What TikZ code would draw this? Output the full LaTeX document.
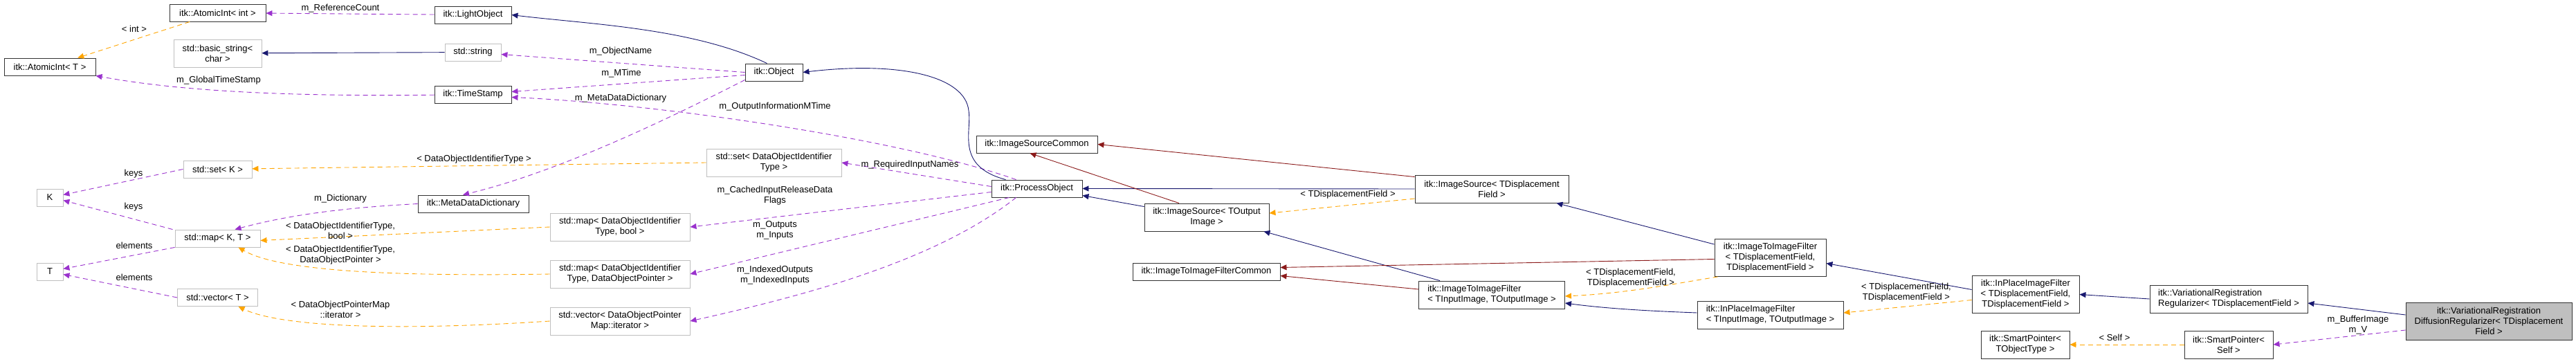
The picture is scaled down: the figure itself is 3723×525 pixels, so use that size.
\documentclass[tikz,border=0pt]{standalone}
\usepackage{fontspec}
\setmainfont{Liberation Sans}
\usetikzlibrary{arrows.meta,calc}
\definecolor{inhc}{HTML}{191970}
\definecolor{usec}{HTML}{9A32CD}
\definecolor{tplc}{HTML}{FFA500}
\definecolor{redc}{HTML}{8B1A1A}
\begin{document}
\begin{tikzpicture}[x=1pt,y=-1pt,
 every node/.style={font=\fontsize{13}{15}\selectfont, inner sep=0pt},
 box/.style={draw=black!80, line width=0.9pt, fill=white, minimum height=25, align=center},
 ext/.style={box, draw=black!25},
 arr/.style={-{Triangle[length=9pt,width=8pt]}, line width=0.9pt},
 inh/.style={arr, draw=inhc, -{Triangle[length=9pt,width=8pt,fill=inhc]}},
 red/.style={arr, draw=redc, -{Triangle[length=9pt,width=8pt,fill=redc]}},
 use/.style={arr, draw=usec, dash pattern=on 7pt off 5pt, -{Triangle[length=9pt,width=8pt,fill=usec]}},
 tpl/.style={arr, draw=tplc, dash pattern=on 7pt off 5pt, -{Triangle[length=9pt,width=8pt,fill=tplc]}},
 lbl/.style={align=center, fill=none}]
\useasboundingbox (0,0) rectangle (3723,525);
% nodes
\node[box, minimum width=139] (AI) at (314.5,18.5) {itk::AtomicInt< int >};
\node[ext, minimum width=127, minimum height=40] (BS) at (314.5,77) {std::basic\_string<\\char >};
\node[box, minimum width=132] (AT) at (72,96.5) {itk::AtomicInt< T >};
\node[ext, minimum width=99] (SK) at (314.5,244.5) {std::set< K >};
\node[ext, minimum width=38] (K) at (72,285.5) {K};
\node[ext, minimum width=123] (MK) at (314.5,344.5) {std::map< K, T >};
\node[ext, minimum width=38] (T) at (72,392.5) {T};
\node[ext, minimum width=116] (VT) at (314.5,430) {std::vector< T >};
\node[box, minimum width=111] (LO) at (683.5,21.5) {itk::LightObject};
\node[ext, minimum width=81] (SS) at (683.5,75.5) {std::string};
\node[box, minimum width=111] (TS) at (683.5,136.5) {itk::TimeStamp};
\node[box, minimum width=83] (OB) at (1118.5,104.5) {itk::Object};
\node[box, minimum width=160] (MD) at (684,294.5) {itk::MetaDataDictionary};
\node[ext, minimum width=195, minimum height=40] (SD) at (1118.5,235) {std::set< DataObjectIdentifier\\Type >};
\node[ext, minimum width=202, minimum height=40] (MB) at (896,328) {std::map< DataObjectIdentifier\\Type, bool >};
\node[ext, minimum width=202, minimum height=40] (MP) at (896,396) {std::map< DataObjectIdentifier\\Type, DataObjectPointer >};
\node[ext, minimum width=202, minimum height=40] (VI) at (896,464) {std::vector< DataObjectPointer\\Map::iterator >};
\node[box, minimum width=175] (ISC) at (1498.5,208.5) {itk::ImageSourceCommon};
\node[box, minimum width=131] (PO) at (1498.5,272.5) {itk::ProcessObject};
\node[box, minimum width=180, minimum height=40] (IS) at (1744,314) {itk::ImageSource< TOutput\\Image >};
\node[box, minimum width=213] (IFC) at (1743.5,392.5) {itk::ImageToImageFilterCommon};
\node[box, minimum width=222, minimum height=40] (ISD) at (2156,273) {itk::ImageSource< TDisplacement\\Field >};
\node[box, minimum width=211, minimum height=40, align=left] (IF) at (2156,426) {itk::ImageToImageFilter\\< TInputImage, TOutputImage >};
\node[box, minimum width=161, minimum height=54] (IFD) at (2558.5,372.5) {itk::ImageToImageFilter\\< TDisplacementField,\\TDisplacementField >};
\node[box, minimum width=211, minimum height=40, align=left] (IP) at (2558.5,455) {itk::InPlaceImageFilter\\< TInputImage, TOutputImage >};
\node[box, minimum width=155, minimum height=54] (IPD) at (2927.5,425.5) {itk::InPlaceImageFilter\\< TDisplacementField,\\TDisplacementField >};
\node[box, minimum width=128, minimum height=40] (SPT) at (2927,498) {itk::SmartPointer<\\TObjectType >};
\node[box, minimum width=228, minimum height=40, align=left] (VR) at (3221,432) {itk::VariationalRegistration\\Regularizer< TDisplacementField >};
\node[box, minimum width=128, minimum height=40] (SPS) at (3221,498) {itk::SmartPointer<\\Self >};
\node[box, fill=black!25, minimum width=240, minimum height=54] (DR) at (3597,464) {itk::VariationalRegistration\\DiffusionRegularizer< TDisplacement\\Field >};
% edges
\draw[tpl] (AI) -- (AT);
\node[lbl] at (194,42) {< int >};
\draw[use] (LO) -- (AI);
\node[lbl] at (492,12) {m\_ReferenceCount};
\draw[inh] (SS) -- (BS);
\draw[use] (TS) .. controls (400,140) and (250,130) .. (AT.south east);
\node[lbl] at (316,116) {m\_GlobalTimeStamp};
\draw[inh] ($(OB.north)+(-10,0)$) .. controls (1000,40) and (850,35) .. (LO.east);
\draw[use] (OB.west) -- (SS);
\node[lbl] at (897,74) {m\_ObjectName};
\draw[use] ($(OB.west)+(0,4)$) -- ($(TS.east)+(0,-4)$);
\node[lbl] at (898,106) {m\_MTime};
\draw[use] ($(OB.south west)+(0,-2)$) .. controls (950,180) and (800,250) .. ($(MD.north)+(-15,0)$);
\node[lbl] at (897,142) {m\_MetaDataDictionary};
\draw[use] ($(PO.north)+(-30,0)$) .. controls (1300,200) and (950,150) .. ($(TS.east)+(0,4)$);
\node[lbl] at (1120,154) {m\_OutputInformationMTime};
\draw[inh] ($(PO.north)+(-45,0)$) .. controls (1380,240) and (1405,190) .. (1400,160) .. controls (1395,110) and (1300,88) .. (OB.east);
\draw[tpl] (SD.west) -- (SK);
\node[lbl] at (685,230) {< DataObjectIdentifierType >};
\draw[use] (SK.west) -- ($(K.east)+(0,-4)$);
\node[lbl] at (193,251) {keys};
\draw[use] ($(MK.north)+(-65,0)$) -- ($(K.east)+(0,4)$);
\node[lbl] at (193,299) {keys};
\draw[use] (MK.south west) -- ($(T.east)+(0,-4)$);
\node[lbl] at (194,355) {elements};
\draw[use] (VT.west) -- ($(T.east)+(0,4)$);
\node[lbl] at (194,401) {elements};
\draw[use] (MD.west) .. controls (500,300) and (420,310) .. ($(MK.north)+(25,0)$);
\node[lbl] at (492,287) {m\_Dictionary};
\draw[tpl] (MB.west) -- ($(MK.east)+(0,3)$);
\node[lbl] at (492,333) {< DataObjectIdentifierType,\\bool >};
\draw[tpl] (MP.west) .. controls (550,400) and (400,390) .. ($(MK.south)+(30,0)$);
\node[lbl] at (492,369) {< DataObjectIdentifierType,\\DataObjectPointer >};
\draw[tpl] (VI.west) .. controls (550,480) and (400,470) .. ($(VT.south)+(30,0)$);
\node[lbl] at (492,447) {< DataObjectPointerMap\\::iterator >};
\draw[use] ($(PO.west)+(0,-3)$) -- (SD.east);
\node[lbl] at (1315,238) {m\_RequiredInputNames};
\draw[use] ($(PO.west)+(0,5)$) -- (MB.east);
\node[lbl] at (1120,283) {m\_CachedInputReleaseData\\Flags};
\draw[use] ($(PO.south)+(-40,0)$) -- (MP.east);
\node[lbl] at (1120,333) {m\_Outputs\\m\_Inputs};
\draw[use] ($(PO.south)+(-30,0)$) .. controls (1350,380) and (1150,430) .. (VI.east);
\node[lbl] at (1120,398) {m\_IndexedOutputs\\m\_IndexedInputs};
\draw[inh] ($(IS.north west)+(0,5)$) -- ($(PO.east)+(0,10)$);
\draw[inh] (ISD.west) -- (PO.east);
\draw[red] ($(IS.north)+(-40,0)$) -- ($(ISC.south)+(-10,0)$);
\draw[red] ($(ISD.north west)+(0,3)$) -- (ISC.east);
\draw[tpl] ($(ISD.west)+(0,14)$) -- ($(IS.east)+(0,-6)$);
\node[lbl] at (1948,281) {< TDisplacementField >};
\draw[inh] ($(IF.north)+(-75,0)$) -- ($(IS.south east)+(-8,0)$);
\draw[red] ($(IF.west)+(0,-8)$) -- ($(IFC.east)+(0,6)$);
\draw[red] ($(IFD.west)+(0,2)$) -- ($(IFC.east)+(0,-6)$);
\draw[inh] ($(IFD.north west)+(0,8)$) -- ($(ISD.south east)+(-18,0)$);
\draw[tpl] ($(IFD.south west)+(5,0)$) .. controls (2420,410) and (2350,424) .. ($(IF.east)+(0,2)$);
\node[lbl] at (2357,402) {< TDisplacementField,\\TDisplacementField >};
\draw[inh] ($(IP.west)+(0,-3)$) .. controls (2400,450) and (2330,447) .. ($(IF.east)+(0,12)$);
\draw[inh] ($(IPD.west)+(0,-7)$) -- ($(IFD.east)+(0,8)$);
\draw[tpl] ($(IPD.west)+(0,8)$) -- ($(IP.east)+(0,-3)$);
\node[lbl] at (2755,423) {< TDisplacementField,\\TDisplacementField >};
\draw[inh] (VR.west) -- (IPD.east);
\draw[tpl] (SPS.west) -- (SPT.east);
\node[lbl] at (3056,488) {< Self >};
\draw[inh] ($(DR.west)+(0,-9)$) -- ($(VR.east)+(0,6)$);
\draw[use] ($(DR.west)+(0,13)$) -- (SPS.east);
\node[lbl] at (3408,470) {m\_BufferImage\\m\_V};
\end{tikzpicture}
\end{document}
